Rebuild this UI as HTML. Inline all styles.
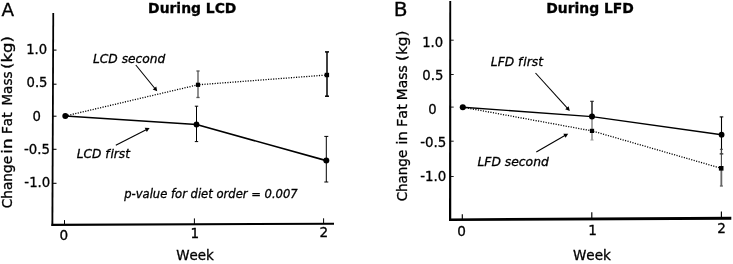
<!DOCTYPE html>
<html lang="en">
<head>
<meta charset="utf-8">
<title>Change in Fat Mass</title>
<style>
html,body{margin:0;padding:0;background:#fff;}
body{width:733px;height:264px;overflow:hidden;}
svg{display:block;}
text{font-family:"DejaVu Sans", "Liberation Sans", sans-serif;fill:#000;font-kerning:none;stroke:#000;stroke-width:0.3px;font-variant-ligatures:none;font-feature-settings:'liga' 0,'clig' 0;}
</style>
</head>
<body>
<svg width="733" height="264" viewBox="0 0 733 264">
<rect width="733" height="264" fill="#fff"/>
<g id="panelA">
<text x="1.4" y="15.7" font-size="18.4">A</text>
<text x="148.1" y="13" font-size="13.75" font-weight="bold" textLength="88.3" lengthAdjust="spacingAndGlyphs">During LCD</text>
<polygon points="52.4,13 54.15,13 53.3,226.0 51.45,226.0" fill="#000"/>
<polygon points="51.45,223.7 334,222.7 334,224.7 51.45,226.0" fill="#000"/>
<line x1="53" y1="50.1" x2="56.5" y2="50.1" stroke="#000" stroke-width="1.05"/>
<line x1="53" y1="84.2" x2="56.5" y2="84.2" stroke="#000" stroke-width="1.05"/>
<line x1="53" y1="116.2" x2="56.5" y2="116.2" stroke="#000" stroke-width="1.05"/>
<line x1="53" y1="149.3" x2="56.5" y2="149.3" stroke="#000" stroke-width="1.05"/>
<line x1="53" y1="183.3" x2="56.5" y2="183.3" stroke="#000" stroke-width="1.05"/>
<line x1="64.5" y1="220.1" x2="64.5" y2="224.6" stroke="#000" stroke-width="1.0"/>
<line x1="194.4" y1="218.4" x2="194.4" y2="224" stroke="#000" stroke-width="1.0"/>
<line x1="323.6" y1="218.3" x2="323.6" y2="223.3" stroke="#000" stroke-width="1.0"/>
<text x="47.2" y="53.8" font-size="13.2" text-anchor="end">1.0</text>
<text x="47.5" y="87.3" font-size="13.2" text-anchor="end">0.5</text>
<text x="40.9" y="120.5" font-size="13.2" text-anchor="end">0</text>
<text x="50.0" y="153.9" font-size="13.3" text-anchor="end">-0.5</text>
<text x="50.3" y="187.3" font-size="13.3" text-anchor="end">-1.0</text>
<text x="63.9" y="239.6" font-size="13.6" text-anchor="middle">0</text>
<text x="194.8" y="238.2" font-size="13.6" text-anchor="middle">1</text>
<text x="323.8" y="237.2" font-size="13.6" text-anchor="middle">2</text>
<text x="176.2" y="260.4" font-size="13.4" textLength="37.7" lengthAdjust="spacingAndGlyphs">Week</text>
<text transform="translate(12.3 207.6) rotate(-90)" y="0" font-size="14.1"><tspan x="-0.77" textLength="52.5" lengthAdjust="spacingAndGlyphs">Change</tspan> <tspan x="53.8" textLength="15.43" lengthAdjust="spacingAndGlyphs">in</tspan> <tspan x="73.67" textLength="21.46" lengthAdjust="spacingAndGlyphs">Fat</tspan> <tspan x="102.08" textLength="33.98" lengthAdjust="spacingAndGlyphs">Mass</tspan> <tspan x="138.59" textLength="32.83" lengthAdjust="spacingAndGlyphs">(kg)</tspan></text>
<polyline points="65.3,116 198,84.8 326.9,75" fill="none" stroke="#000" stroke-width="1.3" stroke-dasharray="1.15 1.4"/>
<line x1="198" y1="71" x2="198" y2="97.5" stroke="#555" stroke-width="1.3"/>
<line x1="196.4" y1="71" x2="199.6" y2="71" stroke="#555" stroke-width="1.3"/>
<line x1="196.4" y1="97.5" x2="199.6" y2="97.5" stroke="#555" stroke-width="1.3"/>
<line x1="327" y1="51.9" x2="327" y2="96.2" stroke="#000" stroke-width="1.5"/>
<line x1="325.0" y1="51.9" x2="329.0" y2="51.9" stroke="#000" stroke-width="1.5"/>
<line x1="325.0" y1="96.2" x2="329.0" y2="96.2" stroke="#000" stroke-width="1.5"/>
<rect x="195.90" y="82.70" width="4.2" height="4.2" fill="#000"/>
<rect x="324.70" y="72.80" width="4.4" height="4.4" fill="#000"/>
<polyline points="65.3,116 196.5,124.5 326.3,160.6" fill="none" stroke="#000" stroke-width="1.65" stroke-linejoin="round"/>
<line x1="196.5" y1="106.2" x2="196.5" y2="141.6" stroke="#000" stroke-width="1"/>
<line x1="194.8" y1="106.2" x2="198.2" y2="106.2" stroke="#000" stroke-width="1"/>
<line x1="194.8" y1="141.6" x2="198.2" y2="141.6" stroke="#000" stroke-width="1"/>
<line x1="326.3" y1="136.4" x2="326.3" y2="182" stroke="#000" stroke-width="1"/>
<line x1="324.3" y1="136.4" x2="328.3" y2="136.4" stroke="#000" stroke-width="1"/>
<line x1="324.3" y1="182" x2="328.3" y2="182" stroke="#000" stroke-width="1"/>
<circle cx="65.3" cy="116" r="3" fill="#000"/>
<circle cx="196.5" cy="124.5" r="2.9" fill="#000"/>
<circle cx="326.3" cy="160.6" r="3" fill="#000"/>
<text x="93" y="62.8" font-size="12.3" font-style="oblique" textLength="72.3" lengthAdjust="spacingAndGlyphs">LCD second</text>
<line x1="135.8" y1="65" x2="155.12" y2="88.74" stroke="#000" stroke-width="1.08"/>
<polygon points="157.20,91.30 152.70,89.42 156.27,86.51" fill="#000"/>
<text x="76.7" y="157.5" font-size="12.3" font-style="oblique" textLength="53.3" lengthAdjust="spacingAndGlyphs">LCD f<tspan dx="0.9">irst</tspan></text>
<line x1="115.8" y1="145.2" x2="146.66" y2="129.4" stroke="#000" stroke-width="1.08"/>
<polygon points="149.60,127.90 146.82,131.91 144.72,127.81" fill="#000"/>
<text x="124.2" y="198.2" font-size="11.4" font-style="oblique" textLength="173.5" lengthAdjust="spacingAndGlyphs">p-value for diet order = 0.007</text>
</g>
<g id="panelB">
<text x="393.8" y="15.95" font-size="18.8" textLength="13.8" lengthAdjust="spacingAndGlyphs">B</text>
<text x="546.3" y="12.8" font-size="13.75" font-weight="bold" textLength="87.6" lengthAdjust="spacingAndGlyphs">During LFD</text>
<polygon points="449.3,1 451.2,1 451.25,220.9 449.0,220.9" fill="#000"/>
<polygon points="449.0,218.4 731.3,216.75 731.3,219.65 449.0,220.9" fill="#000"/>
<line x1="450.5" y1="40.2" x2="453.7" y2="40.2" stroke="#000" stroke-width="0.9"/>
<line x1="450.5" y1="74.5" x2="453.7" y2="74.5" stroke="#000" stroke-width="0.9"/>
<line x1="450.5" y1="107.1" x2="453.7" y2="107.1" stroke="#000" stroke-width="0.9"/>
<line x1="450.5" y1="141.2" x2="453.7" y2="141.2" stroke="#000" stroke-width="0.9"/>
<line x1="450.5" y1="176.5" x2="453.7" y2="176.5" stroke="#000" stroke-width="0.9"/>
<line x1="462.3" y1="214.2" x2="462.3" y2="219.4" stroke="#000" stroke-width="1.15"/>
<line x1="591.8" y1="212.3" x2="591.8" y2="218.6" stroke="#000" stroke-width="1.15"/>
<line x1="721.4" y1="211.6" x2="721.4" y2="218.2" stroke="#000" stroke-width="1.15"/>
<text x="443.2" y="46.6" font-size="13.2" text-anchor="end">1.0</text>
<text x="443.3" y="80.2" font-size="13.2" text-anchor="end">0.5</text>
<text x="436.7" y="113.8" font-size="13.2" text-anchor="end">0</text>
<text x="446.4" y="147.0" font-size="13.4" text-anchor="end">-0.5</text>
<text x="446.4" y="180.9" font-size="13.4" text-anchor="end">-1.0</text>
<text x="461.5" y="236.1" font-size="13.6" text-anchor="middle">0</text>
<text x="592.5" y="234.8" font-size="13.6" text-anchor="middle">1</text>
<text x="721.6" y="233.2" font-size="13.6" text-anchor="middle">2</text>
<text x="572.9" y="259.8" font-size="13.3" textLength="38" lengthAdjust="spacingAndGlyphs">Week</text>
<text transform="translate(407.2 200.6) rotate(-90)" y="0" font-size="14.3"><tspan x="-0.76" textLength="51.57" lengthAdjust="spacingAndGlyphs">Change</tspan> <tspan x="55.78" textLength="13.69" lengthAdjust="spacingAndGlyphs">in</tspan> <tspan x="73.57" textLength="22.97" lengthAdjust="spacingAndGlyphs">Fat</tspan> <tspan x="100.44" textLength="34.83" lengthAdjust="spacingAndGlyphs">Mass</tspan> <tspan x="139.69" textLength="30.42" lengthAdjust="spacingAndGlyphs">(kg)</tspan></text>
<polyline points="462.8,107.2 592,130.9 721.2,168.3" fill="none" stroke="#000" stroke-width="1.3" stroke-dasharray="1.15 1.4"/>
<line x1="592" y1="116" x2="592" y2="140" stroke="#666" stroke-width="1.15"/>
<line x1="590.4" y1="140" x2="593.6" y2="140" stroke="#999" stroke-width="1"/>
<line x1="592" y1="101.3" x2="592" y2="116" stroke="#222" stroke-width="1.5"/>
<line x1="590.2" y1="101.3" x2="593.8" y2="101.3" stroke="#222" stroke-width="1.1"/>
<line x1="721.5" y1="116.9" x2="721.5" y2="153.9" stroke="#000" stroke-width="1.1"/>
<line x1="719.7" y1="116.9" x2="723.3" y2="116.9" stroke="#000" stroke-width="1.1"/>
<line x1="719.7" y1="153.9" x2="723.3" y2="153.9" stroke="#000" stroke-width="1.1"/>
<line x1="721.4" y1="149.3" x2="721.4" y2="186" stroke="#444" stroke-width="1.1"/>
<line x1="719.9" y1="149.3" x2="722.9" y2="149.3" stroke="#444" stroke-width="1.1"/>
<line x1="719.9" y1="186" x2="722.9" y2="186" stroke="#444" stroke-width="1.1"/>
<line x1="721.4" y1="169" x2="721.4" y2="186" stroke="#666" stroke-width="1.7"/>
<polyline points="462.8,107.2 592,116.6 721.6,134.7" fill="none" stroke="#000" stroke-width="1.45" stroke-linejoin="round"/>
<circle cx="462.8" cy="107.2" r="3.05" fill="#000"/>
<circle cx="592" cy="116.6" r="3" fill="#000"/>
<circle cx="721.6" cy="134.7" r="2.9" fill="#000"/>
<rect x="589.90" y="128.80" width="4.2" height="4.2" fill="#000"/>
<rect x="718.90" y="166.00" width="4.6" height="4.6" fill="#000"/>
<text x="490.8" y="66.3" font-size="12.3" font-style="oblique" textLength="52.2" lengthAdjust="spacingAndGlyphs">LFD f<tspan dx="0.9">irst</tspan></text>
<line x1="535.5" y1="73" x2="567.59" y2="108.45" stroke="#000" stroke-width="1.08"/>
<polygon points="569.80,110.90 565.21,109.26 568.62,106.17" fill="#000"/>
<text x="477.5" y="165.5" font-size="12.3" font-style="oblique" textLength="71.3" lengthAdjust="spacingAndGlyphs">LFD second</text>
<line x1="536.3" y1="152" x2="565.34" y2="135.34" stroke="#000" stroke-width="1.08"/>
<polygon points="568.20,133.70 565.61,137.83 563.33,133.84" fill="#000"/>
</g>
</svg>
</body>
</html>
